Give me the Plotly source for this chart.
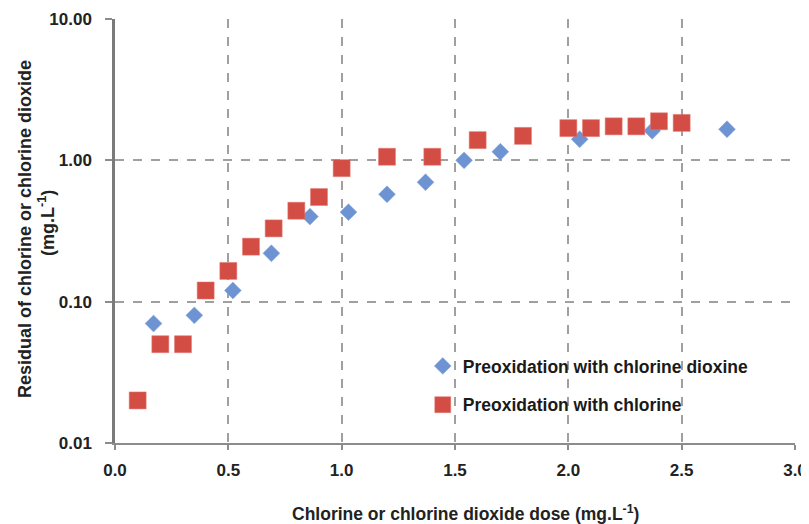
import plotly.graph_objects as go

# Data
clo2_dose = [0.17, 0.35, 0.52, 0.69, 0.86, 1.03, 1.20, 1.37, 1.54, 1.70, 2.05, 2.37, 2.70]
clo2_resid = [0.07, 0.08, 0.12, 0.22, 0.40, 0.43, 0.575, 0.70, 1.00, 1.15, 1.41, 1.62, 1.66]

cl_dose = [0.1, 0.2, 0.3, 0.4, 0.5, 0.6, 0.7, 0.8, 0.9, 1.0, 1.2, 1.4, 1.6, 1.8, 2.0, 2.1, 2.2, 2.3, 2.4, 2.5]
cl_resid = [0.02, 0.05, 0.05, 0.12, 0.165, 0.245, 0.33, 0.44, 0.55, 0.88, 1.06, 1.06, 1.39, 1.49,
            1.69, 1.69, 1.74, 1.74, 1.89, 1.84]

y_ticks = [0.01, 0.1, 1, 10]
y_ticktext = ["0.01", "0.10", "1.00", "10.00"]
x_ticks = [0.0, 0.5, 1.0, 1.5, 2.0, 2.5, 3.0]
x_ticktext = ["0.0", "0.5", "1.0", "1.5", "2.0", "2.5", "3.0"]

FONT = "Arial, 'Liberation Sans', sans-serif"
FS = 17

fig = go.Figure()
fig.add_trace(go.Scatter(
    x=clo2_dose, y=clo2_resid, mode="markers",
    name="<b>Preoxidation with chlorine dioxine</b>",
    legendgroup="a",
    marker=dict(symbol="diamond", size=13, color="#6d93d3",
                line=dict(color="#8aa8dc", width=0.5)),
))
fig.add_trace(go.Scatter(
    x=cl_dose, y=cl_resid, mode="markers",
    name="<b>Preoxidation with chlorine</b>",
    legendgroup="b",
    marker=dict(symbol="square", size=17, color="#d34d45",
                line=dict(color="#e07a74", width=0.5)),
))

fig.update_layout(
    width=801, height=516,
    margin=dict(l=107, r=14, t=11, b=81),
    paper_bgcolor="white", plot_bgcolor="white",
    font=dict(family=FONT, size=FS, color="#222222"),
    legend=dict(x=0.4526, y=0.224, xanchor="left", yanchor="top",
                bgcolor="rgba(0,0,0,0)", tracegroupgap=13,
                font=dict(size=17.5, color="#1a1a1a"), itemsizing="trace"),
    showlegend=True,
    annotations=[
        dict(text="<b>Residual of chlorine or chlorine dioxide</b>", textangle=-90,
             xref="paper", yref="paper", x=-0.132, y=0.505, xanchor="center", yanchor="middle",
             showarrow=False, font=dict(size=18, color="#222222")),
        dict(text="<b>(mg.L<sup>-1</sup>)</b>", textangle=-90,
             xref="paper", yref="paper", x=-0.1, y=0.519, xanchor="center", yanchor="middle",
             showarrow=False, font=dict(size=18, color="#222222")),
        dict(text="<b>Chlorine or chlorine dioxide dose (mg.L<sup>-1</sup>)</b>",
             xref="paper", yref="paper", x=0.515, y=-0.165, xanchor="center", yanchor="middle",
             showarrow=False, font=dict(size=17.5, color="#222222")),
    ],
)
fig.update_xaxes(
    range=[0, 3], tickvals=x_ticks, ticktext=[f"<b>{t}</b>" for t in x_ticktext],
    showline=True, linecolor="#8c8c8c", linewidth=2,
    ticks="outside", ticklen=5, tickcolor="#8c8c8c", tickwidth=1.5,
    showgrid=True, gridcolor="#a0a0a0", gridwidth=1.5, griddash="dash",
    zeroline=False, ticklabelstandoff=6, automargin=False,
    tickfont=dict(size=FS),
)
fig.update_yaxes(
    type="log", range=[-2, 1], tickvals=y_ticks, ticktext=[f"<b>{t}</b>" for t in y_ticktext],
    showline=True, linecolor="#7a7a7a", linewidth=2.5,
    ticks="outside", ticklen=7, tickcolor="#8c8c8c", tickwidth=1.5,
    showgrid=True, gridcolor="#a0a0a0", gridwidth=1.5, griddash="dash",
    zeroline=False, ticklabelstandoff=10, automargin=False,
    tickfont=dict(size=FS),
)

fig.write_html("out.html")
